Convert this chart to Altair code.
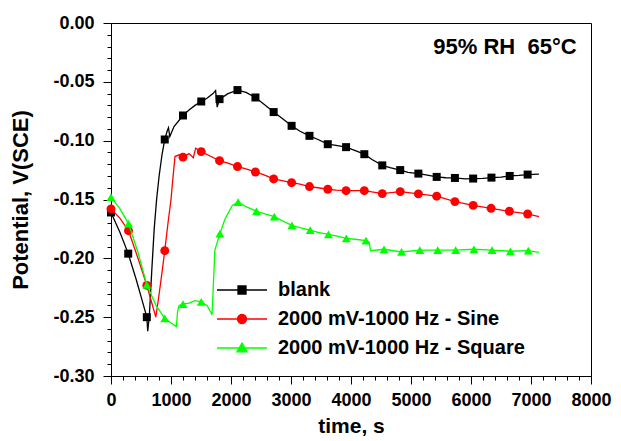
import altair as alt
import pandas as pd

FONT = "Liberation Sans"

series = ["blank", "2000 mV-1000 Hz - Sine", "2000 mV-1000 Hz - Square"]
colors = ["#000000", "#FF0000", "#00FF00"]
shapes = ["square", "circle", "triangle-up"]
legend_paths = [
    "M-2.5,0H2.5M-0.4,-0.4H0.4V0.4H-0.4Z",
    "M-2.5,0H2.5M0.45,0A0.45,0.45,0,1,1,-0.45,0A0.45,0.45,0,1,1,0.45,0Z",
    "M-2.5,0H2.5M0,-0.5L0.5,0.38H-0.5Z",
]

# ---- blank (black) ----
blank_t = [0, 150, 287, 420, 520, 597, 612, 640, 680, 720, 760, 802, 850, 896, 935,
           958, 980, 1050, 1200, 1300, 1400, 1504, 1600, 1700, 1743, 1770, 1809, 1950,
           2108, 2250, 2407, 2550, 2711, 2850, 3010, 3150, 3308, 3450, 3613, 3750, 3918,
           4050, 4222, 4350, 4521, 4650, 4820, 4950, 5123, 5250, 5428, 5580, 5732, 5900,
           6036, 6200, 6341, 6500, 6645, 6800, 6944, 7132]
blank_v = [-0.161, -0.178, -0.196, -0.218, -0.236, -0.250, -0.262, -0.248, -0.210, -0.175,
           -0.150, -0.130, -0.112, -0.099, -0.092, -0.089, -0.0965, -0.088, -0.0786, -0.074,
           -0.070, -0.0667, -0.064, -0.060, -0.0575, -0.0715, -0.0647, -0.060, -0.057, -0.059,
           -0.0633, -0.069, -0.0757, -0.081, -0.0874, -0.092, -0.0959, -0.099, -0.103, -0.104,
           -0.1055, -0.108, -0.1115, -0.116, -0.121, -0.123, -0.125, -0.127, -0.128, -0.129,
           -0.1308, -0.1315, -0.1317, -0.1325, -0.1322, -0.132, -0.1314, -0.131, -0.130,
           -0.1295, -0.1288, -0.1285]
blank_mt = [0, 287, 597, 896, 1200, 1504, 1809, 2108, 2407, 2711, 3010, 3308, 3613, 3918,
            4222, 4521, 4820, 5123, 5428, 5732, 6036, 6341, 6645, 6944]
blank_mv = [-0.161, -0.196, -0.250, -0.099, -0.0786, -0.0667, -0.0647, -0.057, -0.0633,
            -0.0757, -0.0874, -0.0959, -0.103, -0.1055, -0.1115, -0.121, -0.125, -0.128,
            -0.1308, -0.1317, -0.1322, -0.1314, -0.130, -0.1288]

# ---- sine (red) ----
sine_t = [0, 150, 292, 450, 597, 680, 747, 790, 850, 896, 950, 1000, 1035, 1067, 1134,
          1200, 1300, 1372, 1411, 1504, 1650, 1809, 1950, 2108, 2250, 2407, 2550, 2711,
          2850, 3010, 3150, 3308, 3450, 3613, 3750, 3918, 4222, 4521, 4820, 5123, 5428,
          5732, 6036, 6335, 6640, 6944, 7132]
sine_v = [-0.158, -0.166, -0.1765, -0.200, -0.223, -0.238, -0.250, -0.235, -0.212, -0.1935,
          -0.170, -0.150, -0.130, -0.1135, -0.112, -0.114, -0.111, -0.1145, -0.1064, -0.1093,
          -0.113, -0.117, -0.119, -0.122, -0.124, -0.1266, -0.129, -0.1325, -0.134, -0.1357,
          -0.137, -0.139, -0.140, -0.1413, -0.142, -0.1425, -0.1425, -0.1450, -0.1433,
          -0.1452, -0.1472, -0.1518, -0.155, -0.1575, -0.160, -0.1623, -0.1646]
sine_mt = [0, 292, 597, 896, 1200, 1504, 1809, 2108, 2407, 2711, 3010, 3308, 3613, 3918,
           4222, 4521, 4820, 5123, 5428, 5732, 6036, 6335, 6640, 6944]
sine_mv = [-0.158, -0.1765, -0.223, -0.1935, -0.114, -0.1093, -0.117, -0.122, -0.1266,
           -0.1325, -0.1357, -0.139, -0.1413, -0.1425, -0.1425, -0.1450, -0.1433, -0.1452,
           -0.1472, -0.1518, -0.155, -0.1575, -0.160, -0.1623]

# ---- square (green) ----
square_t = [0, 150, 292, 450, 597, 750, 896, 1000, 1090, 1110, 1134, 1200, 1300, 1400, 1504,
            1600, 1665, 1684, 1731, 1815, 1897, 2021, 2118, 2250, 2424, 2550, 2722, 2850,
            3015, 3150, 3320, 3450, 3624, 3750, 3922, 4100, 4250, 4300, 4327, 4550, 4843,
            5147, 5446, 5745, 6049, 6351, 6657, 6955, 7132]
square_v = [-0.148, -0.158, -0.1705, -0.195, -0.2225, -0.240, -0.251, -0.255, -0.258, -0.245,
            -0.240, -0.239, -0.238, -0.236, -0.237, -0.240, -0.246, -0.248, -0.193, -0.179,
            -0.167, -0.155, -0.1523, -0.156, -0.160, -0.162, -0.1646, -0.168, -0.172, -0.174,
            -0.176, -0.178, -0.1796, -0.181, -0.183, -0.184, -0.185, -0.186, -0.1935, -0.1923,
            -0.1946, -0.193, -0.193, -0.193, -0.1923, -0.193, -0.194, -0.1935, -0.195]
square_mt = [0, 292, 597, 896, 1200, 1504, 1815, 2118, 2424, 2722, 3015, 3320, 3624, 3922,
             4250, 4550, 4843, 5147, 5446, 5745, 6049, 6351, 6657, 6955]
square_mv = [-0.148, -0.1705, -0.2225, -0.251, -0.239, -0.237, -0.179, -0.1523, -0.160,
             -0.1646, -0.172, -0.176, -0.1796, -0.183, -0.185, -0.1923, -0.1946, -0.193,
             -0.193, -0.193, -0.1923, -0.193, -0.194, -0.1935]

x_ticks = list(range(0, 8001, 1000))
x_minor = [v for v in range(0, 8001, 200) if v % 1000 != 0]
y_ticks = [round(-0.05 * i, 2) for i in range(7)]
y_minor = [round(-0.01 * i, 2) for i in range(31) if i % 5 != 0]

annot_text = ["95% RH\u00a0\u00a065\u00b0C"]
annot_t = [7760]
annot_v = [-0.0205]

lines = pd.concat([
    pd.DataFrame({"t": blank_t, "v": blank_v, "series": series[0]}),
    pd.DataFrame({"t": sine_t, "v": sine_v, "series": series[1]}),
    pd.DataFrame({"t": square_t, "v": square_v, "series": series[2]}),
], ignore_index=True)
marks = pd.concat([
    pd.DataFrame({"t": blank_mt, "v": blank_mv, "series": series[0]}),
    pd.DataFrame({"t": sine_mt, "v": sine_mv, "series": series[1]}),
    pd.DataFrame({"t": square_mt, "v": square_mv, "series": series[2]}),
], ignore_index=True)
annot = pd.DataFrame({"t": annot_t, "v": annot_v, "text": annot_text})

xscale = alt.Scale(domain=[0, 8000], nice=False, zero=False)
yscale = alt.Scale(domain=[-0.30, 0.0], nice=False, zero=False)

x_axis = alt.Axis(
    values=x_ticks, format="d", labelFont=FONT, labelFontSize=18, labelFontWeight="bold",
    labelColor="black", labelFlush=False, labelPadding=7, tickSize=8, tickColor="black",
    domainColor="black", grid=False, titleFont=FONT, titleFontSize=21,
    titleFontWeight="bold", titleColor="black", titlePadding=6)
y_axis = alt.Axis(
    values=y_ticks, labelExpr="datum.value == 0 ? '0.00' : '-' + format(abs(datum.value), '.2f')",
    labelFont=FONT, labelFontSize=18, labelFontWeight="bold", labelColor="black",
    labelFlush=False, labelPadding=9, tickSize=8, tickColor="black", domainColor="black",
    grid=False, titleFont=FONT, titleFontSize=22, titleFontWeight="bold",
    titleColor="black", titlePadding=20)
X = alt.X("t:Q", scale=xscale, title="time, s", axis=x_axis)
Y = alt.Y("v:Q", scale=yscale, title="Potential, V(SCE)", axis=y_axis)

layers = []
for i, s in enumerate(series):
    ln = alt.Chart(lines).transform_filter(alt.datum.series == s).mark_line(
        color=colors[i], strokeWidth=1.3).encode(x=X, y=Y)
    pt = alt.Chart(marks).transform_filter(alt.datum.series == s).mark_point(
        shape=shapes[i], filled=True, color=colors[i], opacity=1,
        size=64 if i == 0 else 80).encode(x=X, y=Y)
    layers += [ln, pt]

text = alt.Chart(annot).mark_text(
    align="right", baseline="middle", font=FONT, fontSize=22, fontWeight="bold",
    color="black").encode(x=X, y=Y, text="text:N")
layers.append(text)
plot = alt.layer(*layers)

leg = alt.Legend(title=None, orient="none", legendX=120, legendY=256, padding=0,
                 symbolSize=400, symbolStrokeWidth=1.3, labelFont=FONT, labelFontSize=20,
                 labelFontWeight="bold", labelColor="black", labelOffset=25,
                 rowPadding=8, labelLimit=400)
guide = alt.Chart(marks).transform_filter("false").mark_point(
    filled=True, strokeWidth=1.3, opacity=1).encode(
    x=alt.X("t:Q", scale=xscale, axis=alt.Axis(
        orient="bottom", values=x_minor, labels=False, domain=False, grid=False,
        tickSize=4, tickColor="black", title=None)),
    y=alt.Y("v:Q", scale=yscale, axis=alt.Axis(
        orient="left", values=y_minor, labels=False, domain=False, grid=False,
        tickSize=4, tickColor="black", title=None)),
    fill=alt.Fill("series:N", scale=alt.Scale(domain=series, range=colors), legend=leg),
    stroke=alt.Stroke("series:N", scale=alt.Scale(domain=series, range=colors), legend=leg),
    shape=alt.Shape("series:N", scale=alt.Scale(domain=series, range=legend_paths), legend=leg),
)

chart = alt.layer(plot, guide).resolve_scale(
    x="independent", y="independent"
).properties(
    width=480, height=353,
    padding={"left": 103, "top": 15, "right": 22, "bottom": 60},
    autosize=alt.AutoSizeParams(type="none"),
).configure(background="white").configure_view(stroke="black", strokeWidth=1)

chart.save("out.html", embed_options={"renderer": "svg", "actions": False})
